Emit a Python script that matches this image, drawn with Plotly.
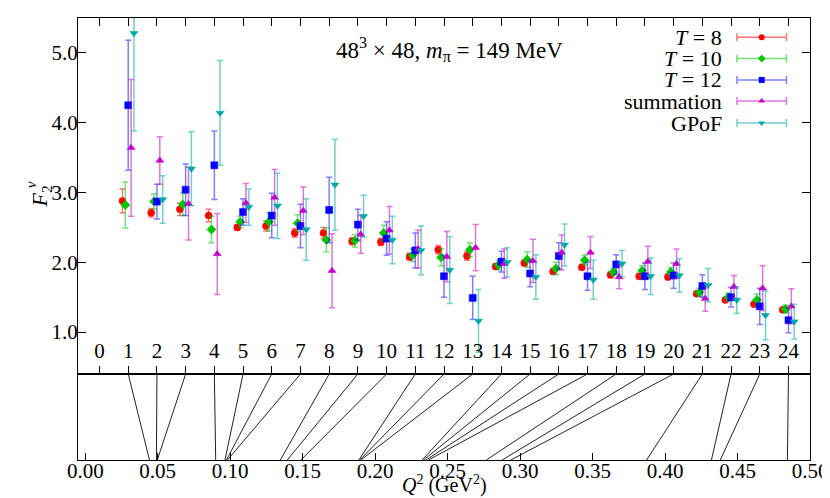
import plotly.graph_objects as go

# ---------------- data ----------------
index = list(range(1, 25))
tick_index = list(range(0, 25))

t8 = [2.88, 2.71, 2.76, 2.67, 2.50, 2.52, 2.42, 2.42, 2.30, 2.29, 2.08, 2.18,
      2.09, 1.94, 1.99, 1.87, 1.93, 1.82, 1.80, 1.79, 1.55, 1.46, 1.40, 1.32]
t8_err = [0.17, 0.06, 0.09, 0.09, 0.04, 0.07, 0.06, 0.08, 0.05, 0.05, 0.05, 0.06,
          0.06, 0.04, 0.04, 0.04, 0.04, 0.04, 0.04, 0.04, 0.03, 0.03, 0.03, 0.03]

t10 = [2.82, 2.87, 2.83, 2.47, 2.58, 2.58, 2.56, 2.32, 2.31, 2.42, 2.10, 2.07,
       2.18, 1.96, 2.04, 1.91, 2.03, 1.86, 1.88, 1.86, 1.57, 1.50, 1.46, 1.33]
t10_err = [0.33, 0.11, 0.16, 0.19, 0.08, 0.13, 0.12, 0.17, 0.09, 0.11, 0.09, 0.12,
           0.10, 0.07, 0.11, 0.09, 0.07, 0.05, 0.075, 0.065, 0.06, 0.055, 0.085, 0.055]

t12 = [4.25, 2.87, 3.04, 3.39, 2.72, 2.67, 2.52, 2.75, 2.54, 2.34, 2.17, 1.80,
       1.49, 2.01, 1.84, 2.09, 1.80, 1.97, 1.80, 1.81, 1.66, 1.50, 1.37, 1.17]
t12_err = [0.93, 0.25, 0.37, 0.49, 0.19, 0.32, 0.31, 0.47, 0.22, 0.24, 0.25, 0.30,
           0.31, 0.15, 0.19, 0.19, 0.20, 0.14, 0.19, 0.18, 0.16, 0.14, 0.26, 0.18]

summ = [3.64, 3.46, 2.84, 2.12, 2.85, 2.93, 2.74, 1.88, 2.40, 2.46, 2.19, 2.08,
        2.21, 1.98, 2.02, 2.14, 2.14, 1.79, 2.01, 1.98, 1.48, 1.65, 1.63, 1.37]
summ_err = [0.98, 0.34, 0.52, 0.58, 0.28, 0.40, 0.34, 0.53, 0.27, 0.34, 0.27, 0.36,
            0.33, 0.21, 0.31, 0.25, 0.23, 0.17, 0.22, 0.21, 0.18, 0.16, 0.32, 0.25]

gpof = [5.28, 2.90, 3.34, 4.14, 2.79, 2.81, 2.47, 3.11, 2.66, 2.32, 2.17, 1.89,
        1.16, 2.00, 1.79, 2.25, 1.75, 1.98, 1.80, 1.81, 1.67, 1.46, 1.24, 1.15]
gpof_err = [1.40, 0.34, 0.53, 0.75, 0.26, 0.47, 0.44, 0.65, 0.30, 0.34, 0.35, 0.48,
            0.45, 0.21, 0.32, 0.30, 0.28, 0.19, 0.26, 0.24, 0.24, 0.19, 0.35, 0.25]

q2 = [0.0443, 0.0491, 0.0497, 0.0900, 0.0964, 0.0974, 0.0981, 0.1346, 0.1394, 0.1488,
      0.1888, 0.1894, 0.1901, 0.2324, 0.2334, 0.2351, 0.2368, 0.2767, 0.2876, 0.2936,
      0.3873, 0.4320, 0.4381, 0.4844]

q2_ticks = [0.00, 0.05, 0.10, 0.15, 0.20, 0.25, 0.30, 0.35, 0.40, 0.45, 0.50]
y_ticks = [1.0, 2.0, 3.0, 4.0, 5.0]

labels = ["<i>T</i> = 8", "<i>T</i> = 10", "<i>T</i> = 12", "summation", "GPoF"]

# ---------------- style ----------------
FONT = "Liberation Serif"
I_RANGE = [-0.75, 24.75]
Q_RANGE = [-0.005, 0.5]
Y_RANGE = [0.4, 5.5]
SPLIT = 0.1946

series = [
    (t8, t8_err, "circle", "#ff0000", "rgba(255,0,0,0.55)", -0.2),
    (t10, t10_err, "diamond", "#00c800", "rgba(0,200,0,0.55)", -0.1),
    (t12, t12_err, "square", "#0000ff", "rgba(0,0,255,0.5)", 0.0),
    (summ, summ_err, "triangle-up", "#c800c8", "rgba(200,0,200,0.55)", 0.1),
    (gpof, gpof_err, "triangle-down", "#00a8a8", "rgba(0,168,168,0.55)", 0.2),
]

fig = go.Figure()

for vals, errs, sym, col, ecol, off in series:
    fig.add_trace(go.Scatter(
        x=[i + off for i in index], y=vals,
        mode="markers",
        marker=dict(symbol=sym, size=7, color=col,
                    line=dict(width=1, color=ecol)),
        error_y=dict(type="data", array=errs, visible=True,
                     color=ecol, thickness=1.5, width=3),
        xaxis="x", yaxis="y", showlegend=False, hoverinfo="skip"))


# mapping of an index position onto the Q^2 axis (both axes share the same pixel span)
def index_to_q(i):
    return Q_RANGE[0] + (i - I_RANGE[0]) / (I_RANGE[1] - I_RANGE[0]) * (Q_RANGE[1] - Q_RANGE[0])


lx, ly = [], []
for i, q in zip(index, q2):
    lx += [index_to_q(i), q, None]
    ly += [1, 0, None]
fig.add_trace(go.Scatter(x=lx, y=ly, mode="lines", line=dict(color="#222", width=1),
                         xaxis="x2", yaxis="y2", showlegend=False, hoverinfo="skip"))

# custom legend (text on the left, sample on the right)
leg_y = [0.946, 0.886, 0.826, 0.767, 0.705]
leg_ann_y = [0.956, 0.908, 0.860, 0.812, 0.762]
for (vals, errs, sym, col, ecol, off), lab, yy, ay in zip(series, labels, leg_y, leg_ann_y):
    fig.add_trace(go.Scatter(
        x=[0.934], y=[yy], mode="markers",
        marker=dict(symbol=sym, size=6, color=col),
        error_x=dict(type="constant", value=0.0338, color=ecol, thickness=1.5, width=4),
        xaxis="x3", yaxis="y3", showlegend=False, hoverinfo="skip"))
    fig.add_annotation(x=0.882, y=ay, xref="paper", yref="paper", text=lab,
                       showarrow=False, xanchor="right", yanchor="middle",
                       font=dict(family=FONT, size=22, color="black"))

fig.add_annotation(x=0.508, y=0.928, xref="paper", yref="paper",
                   text="48<sup>3</sup> × 48, <i>m</i><sub>π</sub> = 149 MeV",
                   showarrow=False, xanchor="center", yanchor="middle",
                   font=dict(family=FONT, size=23, color="black"))

fig.add_annotation(x=0.5, y=-0.056, xref="paper", yref="paper",
                   text="<i>Q</i><sup>2</sup> (GeV<sup>2</sup>)",
                   showarrow=False, xanchor="center", yanchor="middle",
                   font=dict(family=FONT, size=20, color="black"))

# y-axis title F_2^v with stacked sub/superscript
fig.add_annotation(x=-0.050, y=0.597, xref="paper", yref="paper",
                   text="<i>F</i><sub>2</sub>", textangle=-90,
                   showarrow=False, xanchor="center", yanchor="middle",
                   font=dict(family=FONT, size=22, color="black"))
fig.add_annotation(x=-0.064, y=0.622, xref="paper", yref="paper",
                   text="<i>v</i>", textangle=-90,
                   showarrow=False, xanchor="center", yanchor="middle",
                   font=dict(family=FONT, size=15, color="black"))

axis_common = dict(showline=True, linecolor="black", linewidth=1, showgrid=False,
                   zeroline=False, ticks="inside", tickcolor="black", automargin=False,
                   tickfont=dict(family=FONT, size=21, color="black"))

# the page adds an 8 px body margin, so the figure is sized to fit the window
fig.update_layout(
    width=822, height=490,
    margin=dict(l=70, r=19.5, t=10, b=38),
    paper_bgcolor="white", plot_bgcolor="white",
    font=dict(family=FONT, size=21, color="black"),
    xaxis=dict(domain=[0, 1], anchor="y", range=I_RANGE,
               tickvals=tick_index, ticktext=[str(t) for t in tick_index],
               ticklabelposition="inside", ticklabelstandoff=5,
               ticklen=8, mirror="ticks", **axis_common),
    yaxis=dict(domain=[SPLIT, 1], anchor="x", range=Y_RANGE,
               tickvals=y_ticks, ticktext=[f"{v:.1f}" for v in y_ticks],
               ticklabelstandoff=-5,
               ticklen=8, mirror="ticks", **axis_common),
    xaxis2=dict(domain=[0, 1], anchor="y2", range=Q_RANGE,
                tickvals=q2_ticks, ticktext=[f"{v:.2f}" for v in q2_ticks],
                ticklabelstandoff=-8,
                ticklen=7, mirror=True, **axis_common),
    yaxis2=dict(domain=[0, SPLIT], anchor="x2", range=[0, 1], showline=True,
                linecolor="black", mirror=True, showticklabels=False, ticks="",
                showgrid=False, zeroline=False, automargin=False),
    xaxis3=dict(domain=[0, 1], anchor="y3", range=[0, 1], visible=False, overlaying="x"),
    yaxis3=dict(domain=[SPLIT, 1], anchor="x3", range=[0, 1], visible=False, overlaying="y"),
)

fig.write_html("out.html")
